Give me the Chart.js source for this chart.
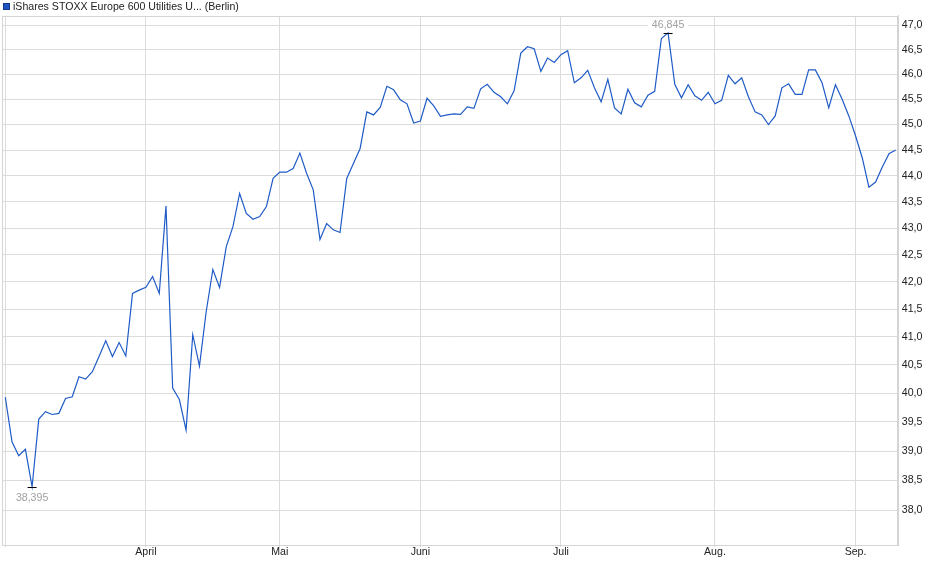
<!DOCTYPE html>
<html>
<head>
<meta charset="utf-8">
<script src="https://cdn.jsdelivr.net/npm/chart.js@4.4.1/dist/chart.umd.min.js"></script>
<style>
  html, body { margin: 0; padding: 0; background: #fff; }
  #wrap { position: relative; width: 940px; height: 579px; }
  #legend { position: absolute; left: 3px; top: 0px; font: 10.6px "Liberation Sans", Arial, sans-serif; color: #222; white-space: nowrap; line-height: 13px; }
  #legend .box { display: inline-block; width: 7px; height: 7px; box-sizing: border-box; background: #1f55c0; border: 1px solid #123a8a; margin-right: 3px; vertical-align: 0px; }
  canvas { position: absolute; left: 0; top: 0; }
</style>
</head>
<body>
<div id="wrap">
  <canvas id="c" width="940" height="579"></canvas>
  <div id="legend"><span class="box"></span>iShares STOXX Europe 600 Utilities U... (Berlin)</div>
</div>
<script>
// Daily closing prices (trading days, 3 Mar – 9 Sep)
const prices = [
  39.93, 39.16, 38.92, 39.03, 38.395, 39.55, 39.68, 39.63, 39.65, 39.91,
  39.94, 40.29, 40.25, 40.38, 40.65, 40.93, 40.65, 40.90, 40.66, 41.79,
  41.85, 41.90, 42.10, 41.79, 43.42, 40.09, 39.89, 39.36, 41.04, 40.48,
  41.45, 42.23, 41.90, 42.65, 43.03, 43.66, 43.28, 43.17, 43.22, 43.41,
  43.95, 44.07, 44.07, 44.14, 44.44, 44.05, 43.73, 42.79, 43.09, 42.97,
  42.92, 43.95, 44.24, 44.53, 45.25, 45.19, 45.34, 45.76, 45.69, 45.49,
  45.41, 45.03, 45.07, 45.52, 45.37, 45.16, 45.19, 45.21, 45.20, 45.35,
  45.32, 45.71, 45.80, 45.64, 45.55, 45.41, 45.67, 46.43, 46.56, 46.52,
  46.06, 46.33, 46.24, 46.40, 46.48, 45.83, 45.93, 46.08, 45.73, 45.45,
  45.90, 45.33, 45.21, 45.70, 45.43, 45.35, 45.58, 45.66, 46.73, 46.845,
  45.80, 45.53, 45.79, 45.57, 45.48, 45.64, 45.41, 45.48, 45.98, 45.81,
  45.93, 45.55, 45.25, 45.19, 45.00, 45.17, 45.73, 45.81, 45.60, 45.60,
  46.09, 46.09, 45.83, 45.33, 45.79, 45.50, 45.17, 44.78, 44.35, 43.78,
  43.88, 44.17, 44.43, 44.50
];
// Month tick labels and the trading-day index where each month starts
const monthLabels = ['', 'April', 'Mai', 'Juni', 'Juli', 'Aug.', 'Sep.'];
const monthIndex  = [0, 21, 41, 62, 83, 106, 127];
// Price axis tick values
const yTicks = [38, 38.5, 39, 39.5, 40, 40.5, 41, 41.5, 42, 42.5, 43, 43.5, 44, 44.5, 45, 45.5, 46, 46.5, 47];

const fmt = (v, d) => v.toFixed(d).replace('.', ',');
const FONT = '"Liberation Sans", Arial, sans-serif';

const points = prices.map((v, i) => ({ x: i, y: v }));
const minIdx = prices.indexOf(Math.min(...prices));
const maxIdx = prices.indexOf(Math.max(...prices));

const extras = {
  id: 'extras',
  beforeDatasetsDraw(chart) {
    const { ctx, chartArea: a } = chart;
    ctx.save();
    ctx.strokeStyle = '#d4d4d4';
    ctx.lineWidth = 1;
    ctx.strokeRect(Math.round(a.left) + 0.5, Math.round(a.top) + 0.5, Math.round(a.right - a.left) - 1, Math.round(a.bottom - a.top));
    ctx.restore();
  },
  afterDatasetsDraw(chart) {
    const { ctx, scales } = chart;
    const xs = scales.x, ys = scales.y;
    ctx.save();
    ctx.font = '10.6px ' + FONT;
    ctx.textAlign = 'center';
    ctx.textBaseline = 'middle';
    // min marker
    let px = xs.getPixelForValue(minIdx), py = Math.round(ys.getPixelForValue(prices[minIdx])) + 0.5;
    ctx.strokeStyle = '#000'; ctx.lineWidth = 1;
    ctx.beginPath(); ctx.moveTo(px - 4.5, py); ctx.lineTo(px + 4.5, py); ctx.stroke();
    ctx.fillStyle = '#a0a0a0';
    ctx.fillText(fmt(prices[minIdx], 3), px, py + 10.5);
    // max marker
    px = xs.getPixelForValue(maxIdx); py = Math.round(ys.getPixelForValue(prices[maxIdx])) + 0.5;
    ctx.beginPath(); ctx.moveTo(px - 4.5, py); ctx.lineTo(px + 4.5, py); ctx.stroke();
    const t = fmt(prices[maxIdx], 3);
    const w = ctx.measureText(t).width + 8;
    ctx.fillStyle = '#fff';
    ctx.fillRect(px - w / 2, py - 14, w, 12);
    ctx.fillStyle = '#a0a0a0';
    ctx.fillText(t, px, py - 8);
    ctx.restore();
  }
};

new Chart(document.getElementById('c'), {
  type: 'line',
  data: {
    datasets: [{
      data: points,
      borderColor: '#1f5bc6',
      borderWidth: 1.2,
      pointRadius: 0,
      tension: 0,
      fill: false
    }]
  },
  options: {
    responsive: false,
    animation: false,
    layout: { padding: { top: 15.7, left: 2.3, right: 0, bottom: 0 } },
    plugins: { legend: { display: false }, tooltip: { enabled: false } },
    scales: {
      x: {
        type: 'linear',
        min: -0.45,
        max: 133.39,
        border: { display: true, color: '#d4d4d4' },
        grid: { color: '#dcdcdc', tickLength: 2, drawTicks: true },
        ticks: {
          color: '#222',
          padding: 0,
          maxRotation: 0,
          autoSkip: false,
          font: { family: FONT, size: 10.6, lineHeight: 1 },
          callback: (v, i) => monthLabels[i]
        },
        afterBuildTicks: s => { s.ticks = monthIndex.map(v => ({ value: v })); },
        afterFit: s => { s.height = 34; }
      },
      y: {
        type: 'logarithmic',
        position: 'right',
        min: 37.427,
        max: 47.198,
        bounds: 'data',
        border: { display: true, color: '#d4d4d4' },
        grid: { color: '#dcdcdc', drawTicks: false },
        ticks: {
          color: '#222',
          padding: 3.5,
          autoSkip: false,
          font: { family: FONT, size: 10.6 },
          callback: v => fmt(v, 1)
        },
        afterBuildTicks: s => { s.ticks = yTicks.map(v => ({ value: v })); },
        afterFit: s => { s.width = 41.7; }
      }
    }
  },
  plugins: [extras]
});
</script>
</body>
</html>
